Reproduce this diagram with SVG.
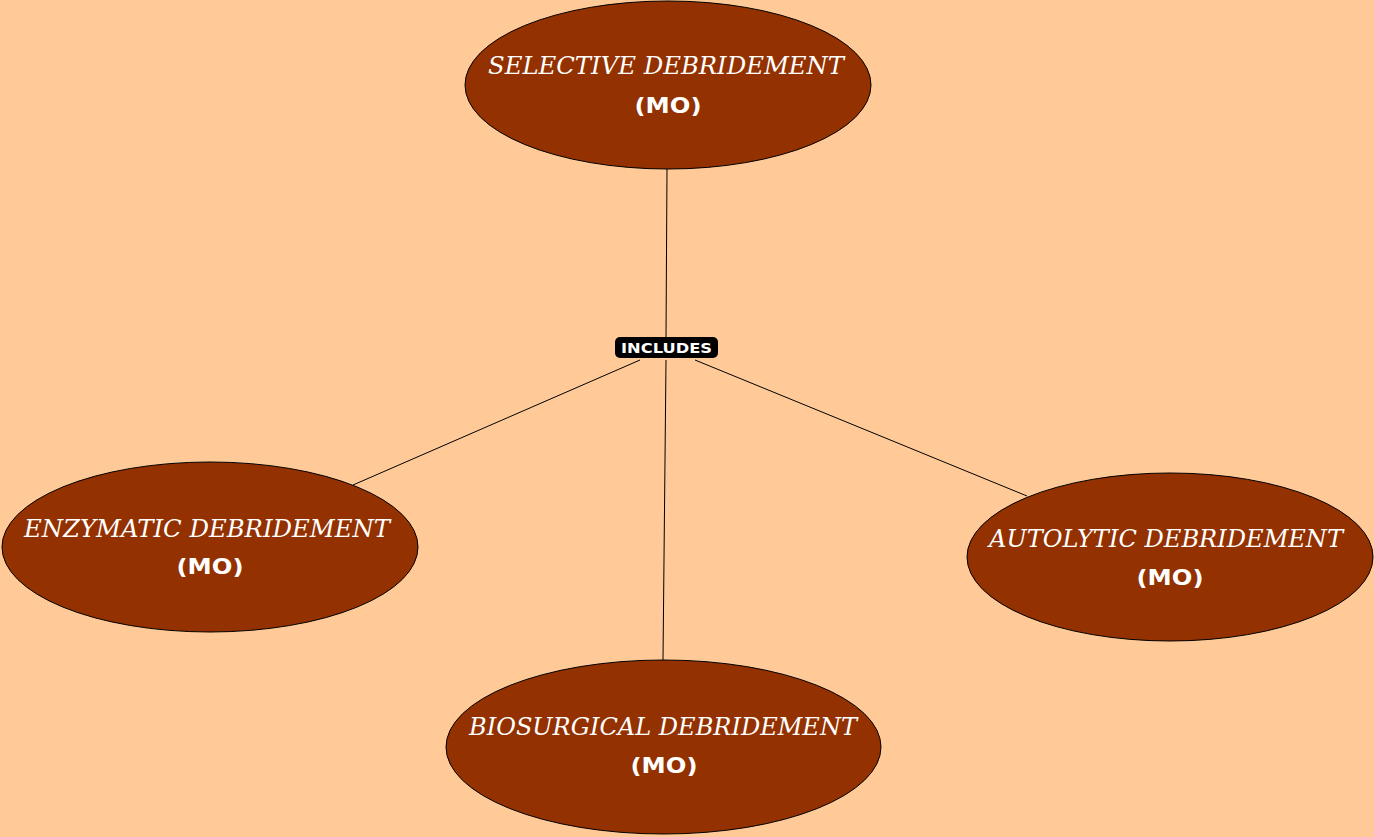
<svg xmlns="http://www.w3.org/2000/svg" width="1374" height="837" viewBox="0 0 1374 837">
<style>
.node { fill: #933100; stroke: #000; stroke-width: 1; }
.title { fill: #fff; font-family: "DejaVu Serif", "Liberation Serif", serif; font-style: italic; font-size: 24px; text-anchor: middle; }
.mo { fill: #fff; font-family: "DejaVu Sans", Verdana, sans-serif; font-weight: bold; font-size: 22px; text-anchor: middle; }
.conn line { stroke: #000; stroke-width: 1; }
.lbl { fill: #fff; font-family: "DejaVu Sans", Verdana, sans-serif; font-weight: bold; font-size: 14px; text-anchor: middle; }
</style>
<rect x="0" y="0" width="1374" height="837" fill="#FFCA97"/>
<g id="connectors" class="conn">
  <line x1="667" y1="169" x2="666" y2="337"/>
  <line x1="640" y1="360" x2="353" y2="485"/>
  <line x1="666" y1="360" x2="663" y2="660"/>
  <line x1="695" y1="360" x2="1027" y2="496"/>
</g>
<g id="label-includes">
  <rect x="615" y="337" width="103" height="21" rx="5" fill="#000"/>
  <text class="lbl" x="666.5" y="353" textLength="91" lengthAdjust="spacingAndGlyphs">INCLUDES</text>
</g>
<g id="node-selective">
  <ellipse class="node" cx="668" cy="85" rx="203" ry="84"/>
  <text class="title" x="666" y="74" textLength="356" lengthAdjust="spacingAndGlyphs">SELECTIVE DEBRIDEMENT</text>
  <text class="mo" x="668" y="113" textLength="67" lengthAdjust="spacingAndGlyphs">(MO)</text>
</g>
<g id="node-enzymatic">
  <ellipse class="node" cx="210" cy="547" rx="208" ry="85"/>
  <text class="title" x="207" y="537" textLength="366" lengthAdjust="spacingAndGlyphs">ENZYMATIC DEBRIDEMENT</text>
  <text class="mo" x="210" y="574" textLength="67" lengthAdjust="spacingAndGlyphs">(MO)</text>
</g>
<g id="node-autolytic">
  <ellipse class="node" cx="1170" cy="557" rx="203" ry="84"/>
  <text class="title" x="1166" y="547" textLength="354" lengthAdjust="spacingAndGlyphs">AUTOLYTIC DEBRIDEMENT</text>
  <text class="mo" x="1170" y="585" textLength="67" lengthAdjust="spacingAndGlyphs">(MO)</text>
</g>
<g id="node-biosurgical">
  <ellipse class="node" cx="663.5" cy="747" rx="217.5" ry="87"/>
  <text class="title" x="663" y="735" textLength="388" lengthAdjust="spacingAndGlyphs">BIOSURGICAL DEBRIDEMENT</text>
  <text class="mo" x="664" y="773" textLength="67" lengthAdjust="spacingAndGlyphs">(MO)</text>
</g>
</svg>
